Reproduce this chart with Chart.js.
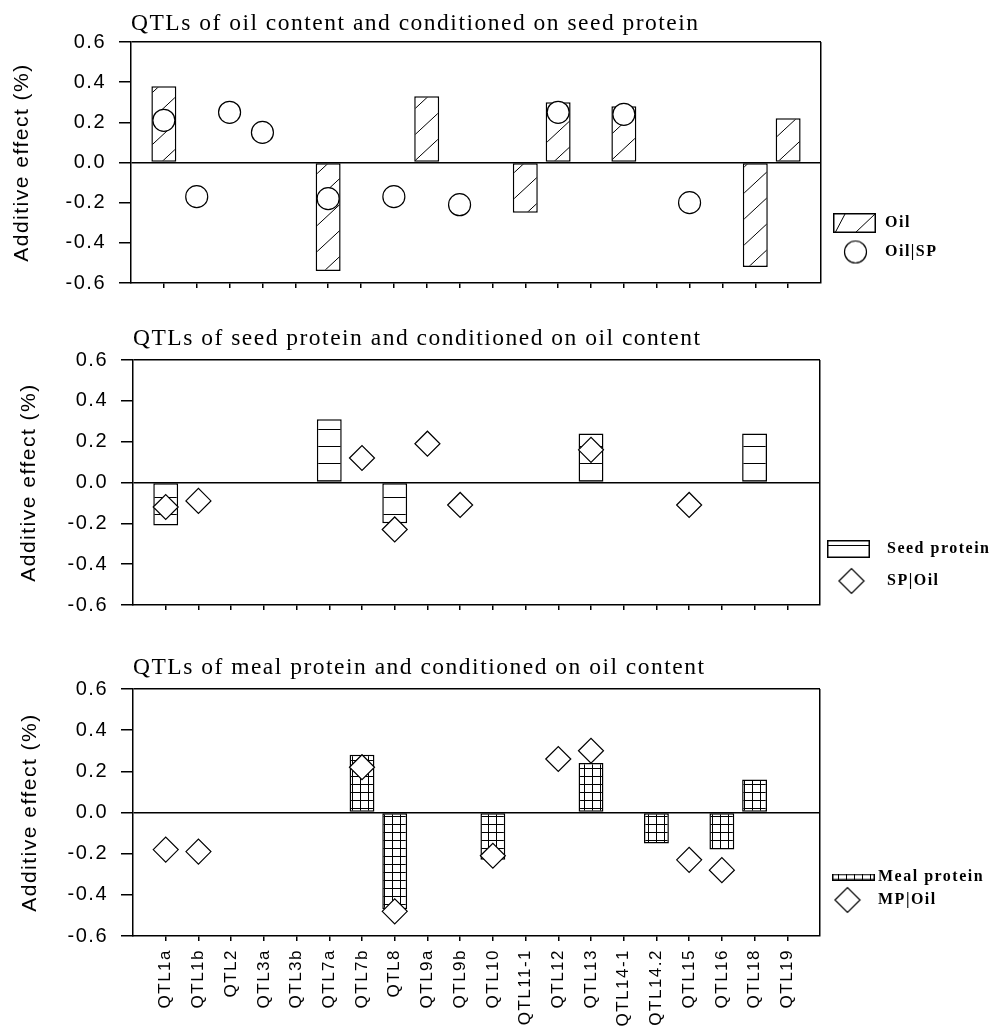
<!DOCTYPE html>
<html><head><meta charset="utf-8">
<script src="https://cdn.jsdelivr.net/npm/chart.js@4.4.1/dist/chart.umd.min.js"></script>
<style>html,body{margin:0;padding:0;background:#fff;}canvas{display:block;}</style>
</head><body>
<canvas id="c1" width="995" height="310"></canvas>
<canvas id="c2" width="995" height="330"></canvas>
<canvas id="c3" width="995" height="396"></canvas>
<script>
// ---- data ----
const categories = ['QTL1a','QTL1b','QTL2','QTL3a','QTL3b','QTL7a','QTL7b','QTL8','QTL9a','QTL9b','QTL10','QTL11-1','QTL12','QTL13','QTL14-1','QTL14.2','QTL15','QTL16','QTL18','QTL19'];
const yTickValues = [-0.6, -0.4, -0.2, 0, 0.2, 0.4, 0.6];
const oil         = [0.38, null, null, null, null, -0.54, null, null, 0.33, null, null, -0.25, 0.30, null, 0.28, null, null, null, -0.52, 0.22];
const oilSP       = [0.21, -0.17, 0.25, 0.15, null, -0.18, null, -0.17, null, -0.21, null, null, 0.25, null, 0.24, null, -0.20, null, null, null];
const seedProtein = [-0.21, null, null, null, null, 0.31, null, -0.20, null, null, null, null, null, 0.24, null, null, null, null, 0.24, null];
const spOil       = [-0.12, -0.09, null, null, null, null, 0.12, -0.23, 0.19, -0.11, null, null, null, 0.16, null, null, -0.11, null, null, null];
const mealProtein = [null, null, null, null, null, null, 0.28, -0.47, null, null, -0.23, null, null, 0.24, null, -0.15, null, -0.18, 0.16, null];
const mpOil       = [-0.18, -0.19, null, null, null, null, 0.22, -0.48, null, null, -0.21, null, 0.26, 0.30, null, null, -0.23, -0.28, null, null];

// ---- setup ----
const SANS = "'Liberation Sans', Arial, sans-serif";
const SERIF = "'Liberation Serif', 'Times New Roman', serif";
const SPACING = '1.5px';
Chart.defaults.color = '#000';
Chart.defaults.font.family = SANS;

const xLabels = ['', ...categories, ''];
const LAST = xLabels.length - 1;
const pad = arr => [null, ...arr, null];
const CLEAR = 'rgba(0,0,0,0)';

function tile(w, h, draw) {
  const c = document.createElement('canvas'); c.width = w; c.height = h;
  const g = c.getContext('2d');
  g.fillStyle = '#fff'; g.fillRect(0, 0, w, h);
  g.strokeStyle = '#000'; g.lineWidth = 1;
  draw(g, w, h);
  return c;
}
const diagTile = tile(28, 26, (g, w, h) => { g.beginPath(); g.moveTo(-w, 2 * h); g.lineTo(2 * w, -h); g.stroke(); });
const horizTile = tile(10, 17, (g, w, h) => { g.beginPath(); g.moveTo(0, 0.5); g.lineTo(w, 0.5); g.stroke(); });
const gridTile = tile(8, 8, (g, w, h) => { g.beginPath(); g.moveTo(0.5, 0); g.lineTo(0.5, h); g.moveTo(0, 0.5); g.lineTo(w, 0.5); g.stroke(); });

function swatchImg(kind, w, h, dx) {
  const W = w + 2 * Math.abs(dx), H = h;
  const c = document.createElement('canvas'); c.width = W; c.height = H;
  const g = c.getContext('2d');
  const x0 = dx >= 0 ? 2 * dx : 0;
  g.fillStyle = '#fff'; g.fillRect(x0, 0, w, h);
  g.strokeStyle = '#000';
  if (kind === 'diag') {
    g.save(); g.beginPath(); g.rect(x0, 0, w, h); g.clip();
    g.lineWidth = 1; g.beginPath();
    g.moveTo(x0 + 2, h); g.lineTo(x0 + 12, 1);
    g.moveTo(x0 + 22, h); g.lineTo(x0 + 42, 1);
    g.stroke(); g.restore();
  } else if (kind === 'horiz') {
    g.lineWidth = 1; g.beginPath(); g.moveTo(x0, 5.5); g.lineTo(x0 + w, 5.5); g.stroke();
  } else {
    g.fillStyle = g.createPattern(gridTile, 'repeat'); g.fillRect(x0, 0, w, h);
  }
  g.lineWidth = 1.5; g.strokeRect(x0 + 0.75, 0.75, w - 1.5, h - 1.5);
  return c;
}
function markerImg(style, r, dx) {
  const S = Math.ceil(2 * r + 3);
  const W = S + 2 * Math.abs(dx);
  const c = document.createElement('canvas'); c.width = W; c.height = S;
  const g = c.getContext('2d');
  const cx = (dx >= 0 ? 2 * dx : 0) + S / 2, cy = S / 2;
  g.fillStyle = '#fff'; g.strokeStyle = '#000'; g.lineWidth = 1.2;
  g.beginPath();
  if (style === 'circle') g.arc(cx, cy, r, 0, Math.PI * 2);
  else { g.moveTo(cx - r, cy); g.lineTo(cx, cy - r); g.lineTo(cx + r, cy); g.lineTo(cx, cy + r); g.closePath(); }
  g.fill(); g.stroke();
  return c;
}

const spacingPlugin = {
  id: 'spacing',
  beforeUpdate(c) { c.ctx.letterSpacing = SPACING; },
  beforeLayout(c) { c.ctx.letterSpacing = SPACING; },
  beforeDraw(c) { c.ctx.letterSpacing = SPACING; }
};
const legendWidthPlugin = {
  id: 'legendWidth',
  beforeLayout(chart, args, opts) {
    const lg = chart.legend;
    if (lg && !lg.__fixedW) {
      const f = lg.fit;
      lg.fit = function () { f.call(this); this.width = opts.width; };
      lg.__fixedW = true;
    }
  }
};

function build(id, o) {
  const canvas = document.getElementById(id);
  const g = canvas.getContext('2d');
  const barPattern = g.createPattern(o.tile, 'repeat');
  return new Chart(canvas, {
    type: 'bar',
    data: {
      labels: xLabels,
      datasets: [
        { type: 'bar', label: o.barLabel, data: pad(o.bars), backgroundColor: barPattern, borderColor: '#000',
          borderWidth: 1.5, borderSkipped: false, barPercentage: 0.76, categoryPercentage: 1, order: 1 },
        { type: 'line', label: o.markLabel, data: pad(o.marks), showLine: false, pointStyle: o.markStyle,
          pointRadius: o.markRadius, pointHoverRadius: o.markRadius, pointBackgroundColor: '#fff',
          pointBorderColor: '#000', pointBorderWidth: 1.2, order: 0 }
      ]
    },
    options: {
      responsive: false, animation: false, events: [],
      layout: { padding: 0 },
      plugins: {
        legendWidth: { width: o.legendWidth },
        tooltip: { enabled: false },
        title: { display: true, text: o.title, align: 'start', fullSize: false, color: '#000',
          font: { family: SERIF, size: 23.5, weight: 'normal', lineHeight: 1 },
          padding: { top: o.titleTop, bottom: o.titleBottom } },
        legend: {
          display: true, position: 'right', fullSize: false, align: o.legendAlign,
          title: o.legendTitleH ? { display: true, text: '', font: { size: 1, lineHeight: 1 }, padding: { top: o.legendTitleH - 1, bottom: 0 } } : { display: false },
          labels: {
            usePointStyle: true, pointStyleWidth: 43, padding: o.legendPad, color: '#000',
            font: { family: SERIF, size: 16, weight: 'bold' },
            generateLabels: chart => chart.data.datasets.map((ds, i) => ({
              text: ds.label, pointStyle: o.legendImgs[i], fillStyle: CLEAR, strokeStyle: CLEAR,
              lineWidth: 0, hidden: false, datasetIndex: i, fontColor: '#000'
            }))
          }
        }
      },
      scales: {
        x: {
          type: 'category', offset: false,
          grid: { offset: false, color: c => c.index === LAST ? '#000' : CLEAR, lineWidth: 1.5,
            drawTicks: true, tickLength: 5, tickWidth: 1.5,
            tickColor: c => (c.index === 0 || c.index === LAST) ? CLEAR : '#000' },
          border: { display: true, color: '#000', width: 1.5 },
          ticks: { display: o.showX, autoSkip: false, maxRotation: 90, minRotation: 90, padding: 8,
            font: { family: SANS, size: 17 }, color: '#000' },
          afterFit: s => { s.height = o.xHeight; }
        },
        y: {
          min: -0.6, max: 0.6,
          afterBuildTicks: s => { s.ticks = yTickValues.map(v => ({ value: v })); },
          ticks: { callback: v => Number(v).toFixed(1), font: { family: SANS, size: 20 }, color: '#000', padding: 13 },
          grid: { color: c => (c.tick && (Math.abs(c.tick.value) < 1e-9 || Math.abs(c.tick.value - 0.6) < 1e-9)) ? '#000' : CLEAR,
            lineWidth: 1.5, tickLength: 12, tickWidth: 1.5, tickColor: '#000' },
          border: { display: true, color: '#000', width: 1.5 },
          title: { display: true, text: 'Additive effect (%)', font: { family: SANS, size: 21 }, color: '#000',
            padding: { top: o.yTitlePad, bottom: 0 } },
          afterFit: s => { s.width = o.yWidth; }
        }
      }
    },
    plugins: [spacingPlugin, legendWidthPlugin]
  });
}

build('c1', {
  title: 'QTLs of oil content and conditioned on seed protein',
  titleTop: 12, titleBottom: 6.5, tile: diagTile,
  barLabel: 'Oil', bars: oil, markLabel: 'Oil|SP', marks: oilSP, markStyle: 'circle', markRadius: 11,
  legendWidth: 174, legendAlign: 'start', legendTitleH: 160, legendPad: 13,
  legendImgs: [swatchImg('diag', 43, 20, -1), markerImg('circle', 11, 0)],
  showX: false, xHeight: 27, yWidth: 131, yTitlePad: 10
});
build('c2', {
  title: 'QTLs of seed protein and conditioned on oil content',
  titleTop: 17, titleBottom: 9.5, tile: horizTile,
  barLabel: 'Seed protein', bars: seedProtein, markLabel: 'SP|Oil', marks: spOil, markStyle: 'rectRot', markRadius: 12.5,
  legendWidth: 175, legendAlign: 'end', legendTitleH: 0, legendPad: 16,
  legendImgs: [swatchImg('horiz', 43, 18, -9), markerImg('diamond', 12.5, -6)],
  showX: false, xHeight: 35, yWidth: 133, yTitlePad: 17
});
build('c3', {
  title: 'QTLs of meal protein and conditioned on oil content',
  titleTop: 16, titleBottom: 9.5, tile: gridTile,
  barLabel: 'Meal protein', bars: mealProtein, markLabel: 'MP|Oil', marks: mpOil, markStyle: 'rectRot', markRadius: 12.5,
  legendWidth: 175, legendAlign: 'start', legendTitleH: 173, legendPad: 7,
  legendImgs: [swatchImg('grid', 43, 7, 5), markerImg('diamond', 12.5, -1)],
  showX: true, xHeight: 100, yWidth: 133, yTitlePad: 18
});
</script>
</body></html>
